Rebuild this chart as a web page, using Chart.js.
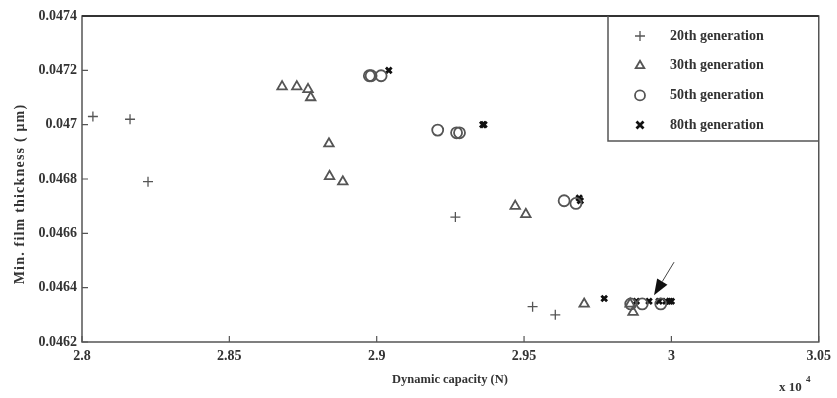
<!DOCTYPE html>
<html>
<head>
<meta charset="utf-8">
<script src="https://cdn.jsdelivr.net/npm/chart.js@4.4.0/dist/chart.umd.min.js"></script>
<style>
  html, body { margin: 0; padding: 0; background: #fff; }
  #wrap { width: 837px; height: 398px; }
</style>
</head>
<body>
<div id="wrap"><canvas id="filmChart"></canvas></div>
<script>
// dynamic capacity in units of 1e4 N, min. film thickness in micrometres
const xTicks = [2.8, 2.85, 2.9, 2.95, 3, 3.05];
const yTicks = [0.0462, 0.0464, 0.0466, 0.0468, 0.047, 0.0472, 0.0474];

const gen20X = [2.8037, 2.8163, 2.8224, 2.9267, 2.9529, 2.9606];
const gen20Y = [0.04703, 0.04702, 0.04679, 0.04666, 0.04633, 0.04630];

const gen30X = [2.8679, 2.8729, 2.8767, 2.8776, 2.8838, 2.8840, 2.8885, 2.9470, 2.9506, 2.9704, 2.9860, 2.9870];
const gen30Y = [0.04714, 0.04714, 0.04713, 0.04710, 0.04693, 0.04681, 0.04679, 0.04670, 0.04667, 0.04634, 0.04634, 0.04631];

const gen50X = [2.8975, 2.8981, 2.9015, 2.9207, 2.9271, 2.9281, 2.9636, 2.9676, 2.9862, 2.9901, 2.9964];
const gen50Y = [0.04718, 0.04718, 0.04718, 0.04698, 0.04697, 0.04697, 0.04672, 0.04671, 0.04634, 0.04634, 0.04634];

const gen80X = [2.9041, 2.9360, 2.9364, 2.9687, 2.9691, 2.9772, 2.9881, 2.9924, 2.9958, 2.9981, 2.9994, 3.0000];
const gen80Y = [0.04720, 0.04700, 0.04700, 0.04673, 0.04672, 0.04636, 0.04635, 0.04635, 0.04635, 0.04635, 0.04635, 0.04635];

// arrow pointing at the converged point (tail, head)
const arrowFrom = [3.0009, 0.046494];
const arrowTo = [2.9941, 0.046372];

const pairs = (xs, ys) => xs.map((x, i) => ({ x: x, y: ys[i] }));

const serif = '"Liberation Serif", "Times New Roman", serif';
const axisColor = '#555';
const textColor = '#333';

// small marker painter used for the legend box
function drawMarker(ctx, style, x, y, r) {
  ctx.beginPath();
  if (style === 'cross') {
    ctx.moveTo(x - r, y); ctx.lineTo(x + r, y);
    ctx.moveTo(x, y - r); ctx.lineTo(x, y + r);
  } else if (style === 'crossRot') {
    ctx.moveTo(x - r, y - r); ctx.lineTo(x + r, y + r);
    ctx.moveTo(x + r, y - r); ctx.lineTo(x - r, y + r);
  } else if (style === 'triangle') {
    ctx.moveTo(x, y - r);
    ctx.lineTo(x + r * 0.866, y + r * 0.5);
    ctx.lineTo(x - r * 0.866, y + r * 0.5);
    ctx.closePath();
  } else {
    ctx.arc(x, y, r, 0, Math.PI * 2);
  }
  ctx.stroke();
}

const framePlugin = {
  id: 'frame',
  afterDraw(chart) {
    const ctx = chart.ctx;
    const a = chart.chartArea;
    const xs = chart.scales.x;
    const ys = chart.scales.y;
    ctx.save();

    // inner tick marks
    ctx.strokeStyle = axisColor;
    ctx.lineWidth = 1.2;
    ctx.beginPath();
    xTicks.forEach(v => {
      const px = xs.getPixelForValue(v);
      ctx.moveTo(px, a.bottom); ctx.lineTo(px, a.bottom - 6);
    });
    yTicks.forEach(v => {
      const py = ys.getPixelForValue(v);
      ctx.moveTo(a.left, py); ctx.lineTo(a.left + 6, py);
    });
    ctx.stroke();

    // axes box
    ctx.lineWidth = 1.5;
    ctx.strokeRect(a.left, a.top, a.right - a.left, a.bottom - a.top);
    ctx.strokeStyle = '#333';
    ctx.lineWidth = 2;
    ctx.beginPath();
    ctx.moveTo(a.left, a.top); ctx.lineTo(a.right, a.top);
    ctx.stroke();

    // arrow
    const x0 = xs.getPixelForValue(arrowFrom[0]), y0 = ys.getPixelForValue(arrowFrom[1]);
    const x1 = xs.getPixelForValue(arrowTo[0]), y1 = ys.getPixelForValue(arrowTo[1]);
    const ang = Math.atan2(y1 - y0, x1 - x0);
    const hl = 16, hw = 6;
    ctx.strokeStyle = '#444';
    ctx.lineWidth = 1;
    ctx.beginPath();
    ctx.moveTo(x0, y0);
    ctx.lineTo(x1 - Math.cos(ang) * hl, y1 - Math.sin(ang) * hl);
    ctx.stroke();
    ctx.fillStyle = '#111';
    ctx.beginPath();
    ctx.moveTo(x1, y1);
    ctx.lineTo(x1 - Math.cos(ang) * hl - Math.sin(ang) * hw, y1 - Math.sin(ang) * hl + Math.cos(ang) * hw);
    ctx.lineTo(x1 - Math.cos(ang) * hl + Math.sin(ang) * hw, y1 - Math.sin(ang) * hl - Math.cos(ang) * hw);
    ctx.closePath();
    ctx.fill();

    // legend box in the top right corner
    const boxL = 608, boxB = 141;
    ctx.strokeStyle = axisColor;
    ctx.lineWidth = 1.5;
    ctx.fillStyle = '#fff';
    ctx.fillRect(boxL, a.top + 1, a.right - boxL - 1, boxB - a.top - 1);
    ctx.beginPath();
    ctx.moveTo(boxL, a.top); ctx.lineTo(boxL, boxB); ctx.lineTo(a.right, boxB);
    ctx.stroke();
    ctx.font = 'bold 14px ' + serif;
    ctx.textBaseline = 'middle';
    ctx.textAlign = 'left';
    chart.data.datasets.forEach((ds, i) => {
      const ly = 36 + i * 29.7;
      ctx.strokeStyle = ds.borderColor;
      ctx.lineWidth = ds.borderWidth;
      drawMarker(ctx, ds.pointStyle, 640, ly, ds.pointStyle === 'crossRot' ? 3.5 : 5);
      ctx.fillStyle = textColor;
      ctx.fillText(ds.label, 670, ly);
    });

    // axis titles
    ctx.fillStyle = textColor;
    ctx.font = 'bold 12.5px ' + serif;
    ctx.textAlign = 'center';
    ctx.fillText('Dynamic capacity (N)', 450, 380);
    ctx.save();
    ctx.translate(20, 194);
    ctx.rotate(-Math.PI / 2);
    ctx.font = 'bold 14px ' + serif;
    ctx.letterSpacing = '1.2px';
    ctx.fillText('Min. film thickness ( \u03bcm)', 0, 0);
    ctx.restore();

    // exponent of the x axis
    ctx.textAlign = 'left';
    ctx.font = 'bold 13px ' + serif;
    ctx.fillText('x 10', 779, 388);
    ctx.font = 'bold 9px ' + serif;
    ctx.fillText('4', 806, 380);

    ctx.restore();
  }
};

new Chart(document.getElementById('filmChart'), {
  type: 'scatter',
  data: {
    datasets: [
      { label: '20th generation', data: pairs(gen20X, gen20Y), pointStyle: 'cross',
        pointRadius: 5, borderColor: '#555', backgroundColor: 'rgba(0,0,0,0)', borderWidth: 1.3 },
      { label: '30th generation', data: pairs(gen30X, gen30Y), pointStyle: 'triangle',
        pointRadius: 5.5, borderColor: '#555', backgroundColor: 'rgba(0,0,0,0)', borderWidth: 1.8 },
      { label: '50th generation', data: pairs(gen50X, gen50Y), pointStyle: 'circle',
        pointRadius: 5.5, borderColor: '#555', backgroundColor: 'rgba(0,0,0,0)', borderWidth: 1.8 },
      { label: '80th generation', data: pairs(gen80X, gen80Y), pointStyle: 'crossRot',
        pointRadius: 4, borderColor: '#111', backgroundColor: 'rgba(0,0,0,0)', borderWidth: 2.8 }
    ]
  },
  options: {
    responsive: true,
    maintainAspectRatio: false,
    animation: false,
    layout: { padding: { top: 16, right: 15, left: 0, bottom: 0 } },
    plugins: { legend: { display: false }, tooltip: { enabled: false } },
    scales: {
      x: {
        type: 'linear',
        min: 2.8,
        max: 3.05,
        afterBuildTicks: s => { s.ticks = xTicks.map(v => ({ value: v })); },
        afterFit: s => { s.height = 56; },
        grid: { display: false, drawTicks: false },
        border: { display: false },
        ticks: {
          padding: 6,
          color: textColor,
          font: { family: serif, size: 14, weight: 'bold' },
          maxRotation: 0,
          callback: v => String(+v.toFixed(2))
        }
      },
      y: {
        type: 'linear',
        min: 0.0462,
        max: 0.0474,
        afterBuildTicks: s => { s.ticks = yTicks.map(v => ({ value: v })); },
        afterFit: s => { s.width = 82; },
        grid: { display: false, drawTicks: false },
        border: { display: false },
        ticks: {
          padding: 5,
          color: textColor,
          font: { family: serif, size: 14, weight: 'bold' },
          callback: v => String(+v.toFixed(4))
        }
      }
    }
  },
  plugins: [framePlugin]
});
</script>
</body>
</html>
